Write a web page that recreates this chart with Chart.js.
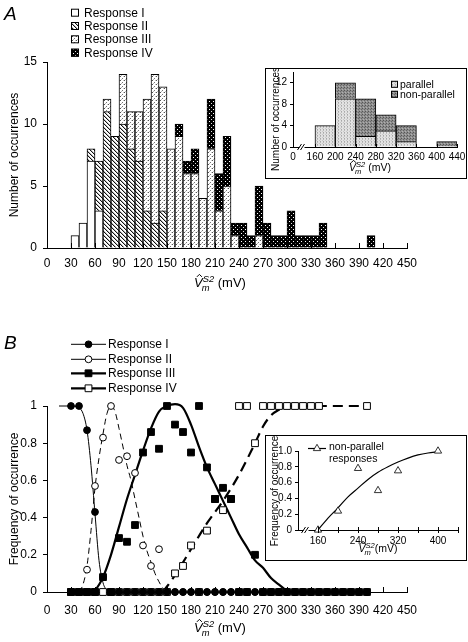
<!DOCTYPE html>
<html>
<head>
<meta charset="utf-8">
<script src="https://cdn.jsdelivr.net/npm/chart.js@4.4.0/dist/chart.umd.min.js"></script>
<style>
  body { margin: 0; background: #fff; }
  #wrap { position: relative; width: 468px; height: 642px; overflow: hidden; background: #fff; }
  .box { position: absolute; }
  .inset { position: absolute; border: 1px solid #000; background: #fff; }
  canvas { display: block; }
</style>
</head>
<body>
<div id="wrap">
  <div class="box" style="left:0;top:0;width:468px;height:300px"><canvas id="chartA" width="468" height="300"></canvas></div>
  <div class="inset" style="left:265px;top:68px;width:200px;height:109px"><canvas id="insetA" width="200" height="109"></canvas></div>
  <div class="box" style="left:0;top:320px;width:468px;height:322px"><canvas id="chartB" width="468" height="322"></canvas></div>
  <div class="inset" style="left:265px;top:435px;width:200px;height:124px"><canvas id="insetB" width="200" height="124"></canvas></div>
</div>
<script>
// ---------- data ----------
// histogram bins (left edge, mV), 10 mV wide
const bins = [30, 40, 50, 60, 70, 80, 90, 100, 110, 120, 130, 140, 150, 160, 170, 180, 190, 200, 210, 220,
              230, 240, 250, 260, 270, 280, 290, 300, 310, 320, 330, 340, 350, 360, 370, 380, 390, 400];
const countI   = [1, 2, 7, 3, 0, 0, 0, 0, 0, 0, 0, 0, 0, 0, 0, 0, 0, 0, 0, 0,
                  0, 0, 0, 0, 0, 0, 0, 0, 0, 0, 0, 0, 0, 0, 0, 0, 0, 0];
const countII  = [0, 0, 1, 4, 11, 9, 10, 8, 7, 3, 2, 3, 0, 0, 0, 0, 0, 0, 0, 0,
                  0, 0, 0, 0, 0, 0, 0, 0, 0, 0, 0, 0, 0, 0, 0, 0, 0, 0];
const countIII = [0, 0, 0, 0, 1, 0, 4, 3, 4, 9, 12, 10, 8, 9, 6, 6, 4, 8, 3, 5,
                  1, 0, 0, 1, 0, 0, 0, 0, 0, 0, 0, 0, 0, 0, 0, 0, 0, 0];
const countIV  = [0, 0, 0, 0, 0, 0, 0, 0, 0, 0, 0, 0, 0, 1, 1, 2, 0, 4, 3, 4,
                  1, 2, 1, 4, 2, 1, 1, 3, 1, 1, 1, 2, 0, 0, 0, 0, 0, 1];

// inset A: 40 mV bins
const insetBins = [160, 200, 240, 280, 320, 400];
const parallelCounts = [4, 9, 2, 3, 1, 0];
const nonParallelCounts = [0, 3, 7, 3, 3, 1];

// panel B: frequency of occurrence per bin
const freqI   = [1, 1, 0.87, 0.43, 0.08, 0, 0, 0, 0, 0, 0, 0, 0, 0, 0, 0, 0, 0, 0, 0,
                 0, 0, 0, 0, 0, 0, 0, 0, 0, 0, 0, 0, 0, 0, 0, 0, 0, 0];
const freqII  = [0, 0, 0.12, 0.57, 0.83, 1, 0.71, 0.73, 0.64, 0.25, 0.14, 0.23, 0, 0, 0, 0, 0, 0, 0, 0,
                 0, 0, 0, 0, 0, 0, 0, 0, 0, 0, 0, 0, 0, 0, 0, 0, 0, 0];
const freqIII = [0, 0, 0, 0, 0.08, 0, 0.29, 0.27, 0.36, 0.75, 0.86, 0.77, 1, 0.9, 0.86, 0.75, 1, 0.67, 0.5, 0.56,
                 0.5, 0, 0, 0.2, 0, 0, 0, 0, 0, 0, 0, 0, 0, 0, 0, 0, 0, 0];
const freqIV  = [0, 0, 0, 0, 0, 0, 0, 0, 0, 0, 0, 0, 0, 0.1, 0.14, 0.25, 0, 0.33, 0.5, 0.44,
                 0.5, 1, 1, 0.8, 1, 1, 1, 1, 1, 1, 1, 1, null, null, null, null, null, 1];

// fitted curves in panel B
const fitIx   = [15, 30, 40, 45, 50, 55, 60, 65, 70, 75, 80];
const fitIy   = [1, 1, 0.99, 0.96, 0.87, 0.68, 0.42, 0.17, 0.05, 0.01, 0];
const fitIIx  = [40, 45, 50, 55, 60, 65, 70, 75, 80, 85, 90, 95, 100, 105, 110, 115, 120, 125, 130, 135, 140, 145, 150];
const fitIIy  = [0, 0.04, 0.14, 0.33, 0.56, 0.72, 0.85, 0.96, 1, 0.97, 0.88, 0.78, 0.68, 0.6, 0.5, 0.4, 0.3, 0.22, 0.16, 0.1, 0.055, 0.02, 0];
const fitIIIx = [55, 60, 70, 80, 90, 100, 110, 120, 130, 140, 150, 160, 170, 180, 190, 200, 210, 220, 230, 240, 250, 260, 270, 280, 290, 300];
const fitIIIy = [0, 0.01, 0.08, 0.2, 0.35, 0.5, 0.63, 0.76, 0.88, 0.97, 1, 1.01, 0.99, 0.9, 0.78, 0.67, 0.58, 0.49, 0.4, 0.31, 0.24, 0.17, 0.13, 0.075, 0.04, 0.005];
const fitIVx  = [145, 160, 180, 200, 220, 240, 260, 270, 280, 290, 300, 320, 350, 380, 400];
const fitIVy  = [0, 0.09, 0.23, 0.37, 0.49, 0.63, 0.8, 0.89, 0.95, 0.98, 1, 1, 1, 1, 1];

// inset B: non-parallel responses
const npX = [160, 200, 240, 280, 320, 400];
const npY = [0, 0.24, 0.78, 0.5, 0.75, 1.0];
const npFitX = [160, 180, 200, 220, 240, 260, 280, 300, 320, 340, 360, 380, 400];
const npFitY = [0, 0.15, 0.28, 0.42, 0.53, 0.64, 0.73, 0.8, 0.86, 0.91, 0.95, 0.975, 0.99];

// ---------- helpers ----------
const fam = "'Liberation Sans', Arial, Helvetica, sans-serif";
Chart.defaults.font.family = fam;
Chart.defaults.font.size = 12;
Chart.defaults.color = '#000';
Chart.defaults.animation = false;

function makePattern(size, bg, dots) {
  const c = document.createElement('canvas');
  c.width = size; c.height = size;
  const g = c.getContext('2d');
  g.fillStyle = bg; g.fillRect(0, 0, size, size);
  dots.forEach(d => { g.fillStyle = d[2]; g.fillRect(d[0], d[1], 1, 1); });
  return g.createPattern(c, 'repeat');
}
const fillI = '#fff';
const fillII = makePattern(4, '#fff', [[0,0,'#111'],[1,1,'#111'],[2,2,'#111'],[3,3,'#111'],[1,0,'#bbb'],[2,1,'#bbb'],[3,2,'#bbb'],[0,3,'#bbb']]);
const fillIII = makePattern(4, '#fff', [[0,0,'#555'],[2,2,'#777'],[3,0,'#ccc'],[1,3,'#bbb']]);
const fillIV = makePattern(4, '#000', [[1,1,'#fff'],[3,3,'#ddd']]);
const fillPar = makePattern(3, '#e2e2e2', [[0,0,'#a8a8a8'],[0,1,'#bbbbbb'],[2,2,'#c8c8c8']]);
const fillNon = makePattern(3, '#8e8e8e', [[0,0,'#555'],[2,1,'#666'],[1,2,'#b0b0b0']]);

function histPoints(counts) {
  return bins.map((b, i) => ({ x: b + 5, y: counts[i] })).filter(p => p.y > 0);
}
function freqPoints(freq) {
  return bins.map((b, i) => freq[i] === null ? null : { x: b, y: freq[i] }).filter(p => p);
}
function xy(xs, ys) {
  return xs.map((x, i) => ({ x: x, y: ys[i] }));
}
const fitY = w => s => { s.width = w; s.paddingTop = 0; s.paddingBottom = 0; };
const fitX = h => s => { s.height = h; s.paddingLeft = 0; s.paddingRight = 0; };

// x ticks drawn upward into the plot
const inTicks = {
  id: 'inTicks',
  afterDraw(chart, args, opts) {
    const s = chart.scales.x, ctx = chart.ctx;
    ctx.save();
    ctx.strokeStyle = '#000'; ctx.lineWidth = 1;
    s.ticks.forEach(t => {
      if (opts.from !== undefined && t.value < opts.from) return;
      const px = Math.round(s.getPixelForValue(t.value)) + 0.5;
      ctx.beginPath();
      ctx.moveTo(px, s.top + (opts.down || 0));
      ctx.lineTo(px, s.top - opts.len);
      ctx.stroke();
    });
    ctx.restore();
  }
};

function drawVTitle(ctx, cx, y, size, gap) {
  const small = size * 0.72;
  ctx.save();
  ctx.fillStyle = '#000'; ctx.strokeStyle = '#000';
  ctx.textBaseline = 'alphabetic'; ctx.textAlign = 'left';
  ctx.font = 'italic ' + size + 'px ' + fam;
  const wV = ctx.measureText('V').width;
  ctx.font = 'italic ' + small + 'px ' + fam;
  const wS = ctx.measureText('S2').width;
  ctx.font = size + 'px ' + fam;
  const tail = gap ? ' (mV)' : '(mV)';
  const wT = ctx.measureText(tail).width;
  let x = cx - (wV + wS + wT) / 2;
  ctx.font = 'italic ' + size + 'px ' + fam;
  ctx.fillText('V', x, y);
  const hx = x + wV / 2 + 1, hy = y - size * 0.78;
  ctx.lineWidth = 1;
  ctx.beginPath();
  ctx.moveTo(hx - 2.5, hy); ctx.lineTo(hx, hy - 2.5); ctx.lineTo(hx + 2.5, hy);
  ctx.stroke();
  ctx.font = 'italic ' + small + 'px ' + fam;
  ctx.fillText('S2', x + wV, y - size * 0.42);
  ctx.fillText('m', x + wV - 1, y + size * 0.3);
  ctx.font = size + 'px ' + fam;
  ctx.fillText(tail, x + wV + wS, y);
  ctx.restore();
}
function drawRotated(ctx, text, x, y, size) {
  ctx.save();
  ctx.translate(x, y); ctx.rotate(-Math.PI / 2);
  ctx.font = size + 'px ' + fam; ctx.fillStyle = '#000';
  ctx.textAlign = 'center'; ctx.textBaseline = 'middle';
  ctx.fillText(text, 0, 0);
  ctx.restore();
}
function drawBreak(ctx, x, y) {
  ctx.save();
  ctx.fillStyle = '#fff';
  ctx.fillRect(x - 2, y - 1, 5, 3);
  ctx.strokeStyle = '#000'; ctx.lineWidth = 1;
  ctx.beginPath();
  ctx.moveTo(x - 4, y + 3); ctx.lineTo(x, y - 3);
  ctx.moveTo(x - 1, y + 3); ctx.lineTo(x + 3, y - 3);
  ctx.stroke();
  ctx.restore();
}

// ---------- panel A ----------
const legendA = [['Response I', fillI], ['Response II', fillII], ['Response III', fillIII], ['Response IV', fillIV]];
new Chart(document.getElementById('chartA'), {
  type: 'bar',
  data: {
    datasets: [
      { label: 'Response I', data: histPoints(countI), backgroundColor: fillI },
      { label: 'Response II', data: histPoints(countII), backgroundColor: fillII },
      { label: 'Response III', data: histPoints(countIII), backgroundColor: fillIII },
      { label: 'Response IV', data: histPoints(countIV), backgroundColor: fillIV }
    ]
  },
  options: {
    responsive: false,
    layout: { padding: { top: 62, right: 61, left: 0, bottom: 0 } },
    datasets: { bar: { borderColor: '#000', borderWidth: 1, barPercentage: 1, categoryPercentage: 1 } },
    plugins: { legend: { display: false }, tooltip: { enabled: false }, inTicks: { len: 5 } },
    scales: {
      x: {
        type: 'linear', stacked: true, offset: false, min: 0, max: 450,
        grid: { display: false, drawTicks: false },
        border: { display: true, color: '#000' },
        ticks: { stepSize: 30, autoSkip: false, maxRotation: 0, padding: 8 },
        afterFit: fitX(52)
      },
      y: {
        stacked: true, min: 0, max: 15,
        grid: { drawOnChartArea: false, tickLength: 4, color: '#000' },
        border: { display: true, color: '#000' },
        ticks: { stepSize: 5, padding: 6 },
        afterFit: fitY(47)
      }
    }
  },
  plugins: [inTicks, {
    id: 'decoA',
    afterDraw(chart) {
      const ctx = chart.ctx;
      ctx.save();
      ctx.font = 'italic 19px ' + fam; ctx.fillStyle = '#000';
      ctx.fillText('A', 4, 20);
      const rows = [12.7, 26, 39.3, 52.7];
      ctx.font = '12px ' + fam; ctx.textBaseline = 'middle';
      legendA.forEach((l, i) => {
        ctx.fillStyle = l[1];
        ctx.fillRect(71, rows[i] - 4, 8, 8);
        ctx.strokeStyle = '#000'; ctx.lineWidth = 1;
        ctx.strokeRect(71.5, rows[i] - 3.5, 7, 7);
        ctx.fillStyle = '#000';
        ctx.fillText(l[0], 84, rows[i] + 0.5);
      });
      ctx.restore();
      drawRotated(ctx, 'Number of occurrences', 15, 155, 12);
      drawVTitle(ctx, 220, 287, 13, true);
    }
  }]
});

// ---------- inset A ----------
const insetAMin = 116.7;
new Chart(document.getElementById('insetA'), {
  type: 'bar',
  data: {
    datasets: [
      { label: 'parallel', data: insetBins.map((b, i) => ({ x: b + 20, y: parallelCounts[i] })).filter(p => p.y > 0), backgroundColor: fillPar },
      { label: 'non-parallel', data: insetBins.map((b, i) => ({ x: b + 20, y: nonParallelCounts[i] })).filter(p => p.y > 0), backgroundColor: fillNon }
    ]
  },
  options: {
    responsive: false,
    layout: { padding: { top: 3, right: 9, left: 0, bottom: 0 } },
    datasets: { bar: { borderColor: '#000', borderWidth: 1, barPercentage: 1, categoryPercentage: 1 } },
    plugins: { legend: { display: false }, tooltip: { enabled: false }, inTicks: { len: 3, from: 150 } },
    scales: {
      x: {
        type: 'linear', stacked: true, offset: false, min: insetAMin, max: 440,
        grid: { display: false, drawTicks: false },
        border: { display: true, color: '#000' },
        afterBuildTicks: s => { s.ticks = [insetAMin, 160, 200, 240, 280, 320, 360, 400, 440].map(v => ({ value: v })); },
        ticks: { autoSkip: false, maxRotation: 0, padding: 4, font: { size: 10 }, callback: v => v === insetAMin ? '0' : v },
        afterFit: fitX(31)
      },
      y: {
        stacked: true, min: 0, max: 14,
        grid: { drawOnChartArea: false, tickLength: 3, color: '#000' },
        border: { display: true, color: '#000' },
        ticks: { stepSize: 2, padding: 3, font: { size: 10 }, callback: v => v % 4 === 0 ? v : '' },
        afterFit: fitY(27)
      }
    }
  },
  plugins: [inTicks, {
    id: 'decoInsetA',
    afterDraw(chart) {
      const ctx = chart.ctx;
      drawBreak(ctx, 35.5, chart.chartArea.bottom);
      drawRotated(ctx, 'Number of occurrences', 10.5, 50, 10);
      ctx.save();
      ctx.font = '10.5px ' + fam; ctx.textBaseline = 'middle';
      [['parallel', fillPar, 15.3], ['non-parallel', fillNon, 25.3]].forEach(l => {
        ctx.fillStyle = l[1];
        ctx.fillRect(125, l[2] - 3.5, 7, 7);
        ctx.strokeStyle = '#000'; ctx.lineWidth = 1;
        ctx.strokeRect(125.5, l[2] - 3, 6, 6);
        ctx.fillStyle = '#000';
        ctx.fillText(l[0], 134, l[2] + 0.5);
      });
      ctx.restore();
      drawVTitle(ctx, 104, 102, 10.5, true);
    }
  }]
});

// ---------- panel B ----------
const legendB = [
  ['Response I', 'circle', '#000', 1],
  ['Response II', 'circle', '#fff', 1],
  ['Response III', 'rect', '#000', 2.2],
  ['Response IV', 'rect', '#fff', 2.2]
];
const lineBase = { showLine: true, pointRadius: 0, borderColor: '#000', cubicInterpolationMode: 'monotone', clip: false, order: 10 };
new Chart(document.getElementById('chartB'), {
  type: 'scatter',
  data: {
    datasets: [
      { label: 'Response I', data: freqPoints(freqI), pointStyle: 'circle', pointRadius: 3.4, backgroundColor: '#000', borderColor: '#000', borderWidth: 1, clip: false, order: 1 },
      { label: 'Response II', data: freqPoints(freqII), pointStyle: 'circle', pointRadius: 3.4, backgroundColor: '#fff', borderColor: '#000', borderWidth: 1, clip: false, order: 3 },
      { label: 'Response III', data: freqPoints(freqIII), pointStyle: 'rect', pointRadius: 4.8, backgroundColor: '#000', borderColor: '#000', borderWidth: 1, clip: false, order: 0 },
      { label: 'Response IV', data: freqPoints(freqIV), pointStyle: 'rect', pointRadius: 4.8, backgroundColor: '#fff', borderColor: '#000', borderWidth: 1, clip: false, order: 2 },
      Object.assign({ data: xy(fitIx, fitIy), borderWidth: 1 }, lineBase),
      Object.assign({ data: xy(fitIIx, fitIIy), borderWidth: 1, borderDash: [6, 4] }, lineBase),
      Object.assign({ data: xy(fitIIIx, fitIIIy), borderWidth: 2.2 }, lineBase),
      Object.assign({ data: xy(fitIVx, fitIVy), borderWidth: 2.2, borderDash: [10, 6] }, lineBase)
    ]
  },
  options: {
    responsive: false,
    layout: { padding: { top: 86, right: 61, left: 0, bottom: 0 } },
    plugins: { legend: { display: false }, tooltip: { enabled: false }, inTicks: { len: 5 } },
    scales: {
      x: {
        type: 'linear', min: 0, max: 450,
        grid: { display: false, drawTicks: false },
        border: { display: true, color: '#000' },
        ticks: { stepSize: 30, autoSkip: false, maxRotation: 0, padding: 11 },
        afterFit: fitX(50)
      },
      y: {
        min: 0, max: 1,
        grid: { drawOnChartArea: false, tickLength: 4, color: '#000' },
        border: { display: true, color: '#000' },
        ticks: { stepSize: 0.2, padding: 6, callback: v => (v === 0 || v === 1) ? String(v) : v.toFixed(1) },
        afterFit: fitY(47)
      }
    }
  },
  plugins: [inTicks, {
    id: 'decoB',
    afterDraw(chart) {
      const ctx = chart.ctx;
      ctx.save();
      ctx.font = 'italic 19px ' + fam; ctx.fillStyle = '#000';
      ctx.fillText('B', 4, 29);
      const rows = [24.3, 39.3, 53.3, 68.3];
      ctx.font = '12px ' + fam; ctx.textBaseline = 'middle';
      legendB.forEach((l, i) => {
        ctx.strokeStyle = '#000'; ctx.lineWidth = l[3];
        ctx.beginPath(); ctx.moveTo(71, rows[i]); ctx.lineTo(106, rows[i]); ctx.stroke();
        ctx.fillStyle = l[2]; ctx.lineWidth = 1;
        Chart.helpers.drawPoint(ctx, { pointStyle: l[1], radius: l[1] === 'rect' ? 4.8 : 3.4, rotation: 0, borderWidth: 1 }, 88.5, rows[i]);
        ctx.fillStyle = '#000';
        ctx.fillText(l[0], 108, rows[i] + 0.5);
      });
      ctx.restore();
      drawRotated(ctx, 'Frequency of occurrence', 15, 179, 12);
      drawVTitle(ctx, 220, 312, 13, true);
    }
  }]
});

// ---------- inset B ----------
new Chart(document.getElementById('insetB'), {
  type: 'scatter',
  data: {
    datasets: [
      { label: 'non-parallel responses', data: xy(npX, npY), pointStyle: 'triangle', pointRadius: 4.2, backgroundColor: '#fff', borderColor: '#000', borderWidth: 0.8, clip: false, order: 0 },
      { data: xy(npFitX, npFitY), showLine: true, pointRadius: 0, borderColor: '#000', borderWidth: 1.2, cubicInterpolationMode: 'monotone', clip: false, order: 5 }
    ]
  },
  options: {
    responsive: false,
    layout: { padding: { top: 15, right: 8, left: 0, bottom: 0 } },
    plugins: { legend: { display: false }, tooltip: { enabled: false }, inTicks: { len: 3, down: 3, from: 150 } },
    scales: {
      x: {
        type: 'linear', min: 120, max: 440,
        grid: { display: false, drawTicks: false },
        border: { display: true, color: '#000' },
        afterBuildTicks: s => { s.ticks = [160, 200, 240, 280, 320, 360, 400, 440].map(v => ({ value: v })); },
        ticks: { autoSkip: false, maxRotation: 0, padding: 5, font: { size: 10 }, callback: v => (v - 160) % 80 === 0 && v < 440 ? v : '' },
        afterFit: fitX(30)
      },
      y: {
        min: 0, max: 1,
        grid: { drawOnChartArea: false, tickLength: 3, color: '#000' },
        border: { display: true, color: '#000' },
        ticks: { stepSize: 0.2, padding: 3, font: { size: 10 }, callback: v => v === 0 ? '0' : v.toFixed(1) },
        afterFit: fitY(32)
      }
    }
  },
  plugins: [inTicks, {
    id: 'decoInsetB',
    afterDraw(chart) {
      const ctx = chart.ctx;
      drawBreak(ctx, 39.5, chart.chartArea.bottom);
      drawRotated(ctx, 'Frequency of occurrence', 9, 55, 10);
      ctx.save();
      ctx.strokeStyle = '#000'; ctx.lineWidth = 1.2;
      ctx.beginPath(); ctx.moveTo(42, 12.5); ctx.lineTo(60, 12.5); ctx.stroke();
      ctx.fillStyle = '#fff'; ctx.lineWidth = 0.8;
      Chart.helpers.drawPoint(ctx, { pointStyle: 'triangle', radius: 4.2, rotation: 0, borderWidth: 0.8 }, 51, 12.5);
      ctx.fillStyle = '#000'; ctx.font = '10.5px ' + fam; ctx.textBaseline = 'middle';
      ctx.fillText('non-parallel', 63, 11);
      ctx.fillText('responses', 63, 23);
      ctx.restore();
      drawVTitle(ctx, 112, 116, 10.5, false);
    }
  }]
});
</script>
</body>
</html>
